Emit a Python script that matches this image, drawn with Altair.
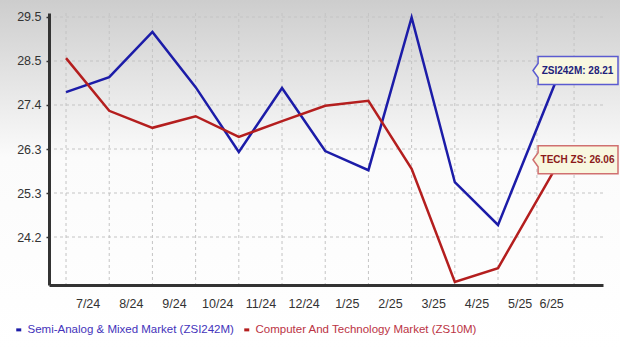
import altair as alt
import pandas as pd

# ---------------- data ----------------
series_names = ["Semi-Analog & Mixed Market (ZSI242M)", "Computer And Technology Market (ZS10M)"]
series_colors = ["#1c1ca8", "#b41e1e"]
legend_colors = ["#4433bb", "#bb3344"]

# x positions (month index; last point is the partial current month)
point_x = [0, 1, 2, 3, 4, 5, 6, 7, 8, 9, 10, 11.44]
semi_values = [27.69, 28.05, 29.14, 27.81, 26.25, 27.79, 26.27, 25.81, 29.49, 25.52, 24.49, 28.21]
tech_values = [28.51, 27.24, 26.83, 27.11, 26.61, 26.99, 27.36, 27.48, 25.84, 23.12, 23.45, 26.06]

grid_x = [0, 1, 2, 3, 4, 5, 6, 7, 8, 9, 10, 10.9, 11.76]
x_label_pos = [0.5, 1.5, 2.5, 3.5, 4.5, 5.5, 6.5, 7.5, 8.5, 9.5, 10.5, 11.23]
x_labels = ["7/24", "8/24", "9/24", "10/24", "11/24", "12/24", "1/25", "2/25", "3/25", "4/25", "5/25", "6/25"]

y_ticks = [24.2, 25.26, 26.32, 27.38, 28.44, 29.5]
y_labels = ["24.2", "25.3", "26.3", "27.4", "28.5", "29.5"]

callout_text = ["ZSI242M: 28.21", "TECH ZS: 26.06"]
callout_border = ["#5b5bd0", "#d07070"]
callout_textcolor = ["#22227a", "#8b1a1a"]

FONT = "Liberation Sans"

# ---------------- tables ----------------
rows = []
for name, vals in zip(series_names, [semi_values, tech_values]):
    for xv, yv in zip(point_x, vals):
        rows.append({"x": xv, "y": yv, "series": name})
lines_df = pd.DataFrame(rows)

callout_df = pd.DataFrame({
    "series": series_names,
    "y": [semi_values[-1], tech_values[-1]],
    "text": callout_text,
    "border": callout_border,
    "tcolor": callout_textcolor,
})
gridx_df = pd.DataFrame({"x": grid_x})
gridy_df = pd.DataFrame({"y": y_ticks})
bg_df = pd.DataFrame({"a": [0]})

W, H = 554, 272
PAD = {"left": 49, "top": 13, "right": 17, "bottom": 64}

xscale = alt.Scale(domain=[-0.394, 12.43], nice=False, zero=False)
yscale = alt.Scale(domain=[23.044, 29.596], nice=False, zero=False)

x_expr = "[" + ",".join("'%s'" % s for s in x_labels) + "][indexof([" + ",".join(str(v) for v in x_label_pos) + "], datum.value)]"
y_expr = "[" + ",".join("'%s'" % s for s in y_labels) + "][indexof([" + ",".join(str(v) for v in y_ticks) + "], datum.value)]"

xaxis = alt.Axis(values=x_label_pos, labelExpr=x_expr, title=None, grid=False, ticks=False,
                 domainColor="#333333", domainWidth=3, labelFont=FONT, labelFontSize=12.5,
                 labelColor="#333333", labelPadding=12, zindex=1, labelFlush=False)
yaxis = alt.Axis(values=y_ticks, labelExpr=y_expr, title=None, grid=False, ticks=True, tickSize=3,
                 tickColor="#333333", tickWidth=1.5, domainColor="#333333", domainWidth=3,
                 labelFont=FONT, labelFontSize=12.5, labelColor="#333333", labelPadding=5, zindex=1)

X = alt.X("x:Q", scale=xscale, axis=xaxis)
Y = alt.Y("y:Q", scale=yscale, axis=yaxis)

bg = alt.Chart(bg_df).mark_rect(
    color=alt.Gradient(
        gradient="linear", x1=0, x2=0, y1=0, y2=1,
        stops=[alt.GradientStop(color="#cdcdcd", offset=0),
               alt.GradientStop(color="#fbfbfb", offset=0.45),
               alt.GradientStop(color="#ffffff", offset=1)]
    )
).encode(x=alt.value(-49), x2=alt.value(571), y=alt.value(-13), y2=alt.value(336))

vgrid = alt.Chart(gridx_df).mark_rule(color="#c4c4c4", strokeWidth=1, strokeDash=[3, 3]).encode(x=X)
hgrid = alt.Chart(gridy_df).mark_rule(color="#c4c4c4", strokeWidth=1, strokeDash=[3, 3]).encode(y=Y)

lines = alt.Chart(lines_df).mark_line(strokeWidth=2.5).encode(
    x=X, y=Y,
    color=alt.Color("series:N", scale=alt.Scale(domain=series_names, range=series_colors),
                    sort=series_names,
                    legend=alt.Legend(
                        title=None, orient="none", direction="horizontal",
                        legendX=-36, legendY=311, padding=0,
                        symbolType="M-1,0H1", symbolSize=25, symbolStrokeWidth=3,
                        labelFont=FONT, labelFontSize=11.5, labelOffset=3,
                        columnPadding=4,
                        labelColor=alt.ExprRef("datum.label == '%s' ? '%s' : '%s'" % (series_names[0], legend_colors[0], legend_colors[1])),
                        labelLimit=400,
                    )),
    order=alt.Order("series:N", sort="ascending"),
)

box_path = "M-1,0L-0.88,-0.165L-0.88,-0.329L1,-0.329L1,0.329L-0.88,0.329L-0.88,0.165Z"
boxes = alt.Chart(callout_df).mark_point(
    shape=box_path, size=7225, filled=True, fill="#f8f7df", strokeWidth=1.5, opacity=1
).encode(
    x=alt.value(526.5), y=Y,
    stroke=alt.Stroke("border:N", scale=None),
)
texts = alt.Chart(callout_df).mark_text(
    font=FONT, fontSize=10, fontWeight="bold", align="center", baseline="middle"
).encode(
    x=alt.value(528.5), y=Y, text="text:N",
    color=alt.Color("tcolor:N", scale=None),
)

chart = alt.layer(bg, vgrid, hgrid, lines, boxes, texts).properties(
    width=W, height=H, padding=PAD, autosize=alt.AutoSizeParams(type="none"),
    background="#ffffff",
).configure_view(stroke=None)

chart.save("out.html", embed_options={"renderer": "svg", "actions": False})
